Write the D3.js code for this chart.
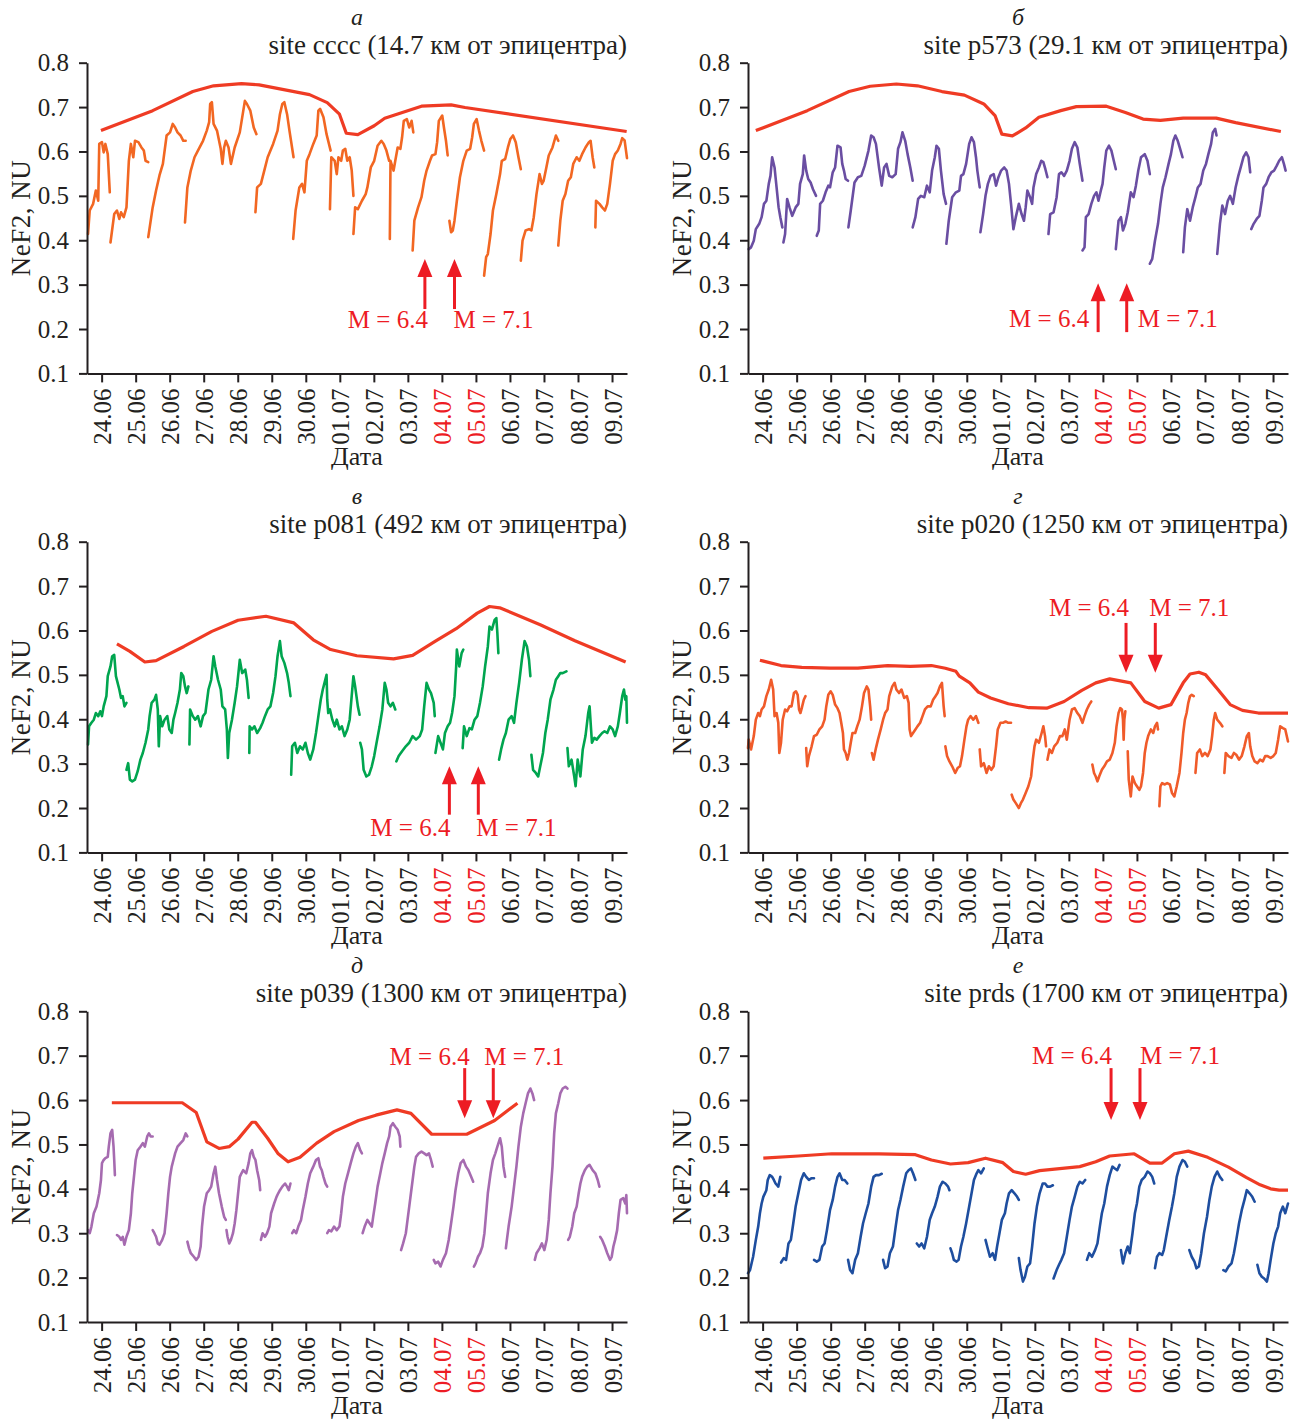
<!DOCTYPE html>
<html>
<head>
<meta charset="utf-8">
<script src="https://cdn.jsdelivr.net/npm/d3@7"></script>
<style>
  body { margin: 0; background: #fff; }
</style>
</head>
<body>
<svg id="chart" width="1304" height="1424"></svg>
<script>
// Day index 0 = 24.06 tick, 15 = 09.07 tick
const dateLabels = ["24.06","25.06","26.06","27.06","28.06","29.06","30.06","01.07","02.07","03.07","04.07","05.07","06.07","07.07","08.07","09.07"];
const redLabels = ["04.07","05.07"];
const yTicks = [0.1,0.2,0.3,0.4,0.5,0.6,0.7,0.8];
const quakeLabels = ["M = 6.4","M = 7.1"];
const panelLetters = ["а","б","в","г","д","е"];
const siteTitles = [
  "site cccc (14.7 км от эпицентра)",
  "site p573 (29.1 км от эпицентра)",
  "site p081 (492 км от эпицентра)",
  "site p020 (1250 км от эпицентра)",
  "site p039 (1300 км от эпицентра)",
  "site prds (1700 км от эпицентра)"
];

// ---- panel а : cccc ----
const envA = [[-0.02,0.647],[1.50,0.692],[2.68,0.735],[3.29,0.748],[4.11,0.753],[4.63,0.750],[6.11,0.728],[6.63,0.710],[6.99,0.684],[7.19,0.641],[7.53,0.638],[8.01,0.658],[8.32,0.675],[9.40,0.702],[10.27,0.705],[10.68,0.699],[15.43,0.645]];
const neA = [
  [[-0.40,0.414],[-0.35,0.467],[-0.25,0.482],[-0.17,0.512],[-0.10,0.489],[-0.07,0.617],[0.01,0.621],[0.06,0.598],[0.11,0.617],[0.18,0.594],[0.24,0.508]],
  [[0.26,0.395],[0.37,0.459],[0.45,0.467],[0.52,0.448],[0.57,0.463],[0.65,0.452],[0.73,0.474],[0.80,0.579],[0.86,0.617],[0.93,0.587],[0.98,0.624],[1.08,0.621],[1.17,0.609],[1.24,0.602],[1.29,0.579],[1.37,0.576]],
  [[1.37,0.407],[1.50,0.474],[1.60,0.512],[1.70,0.546],[1.80,0.572],[1.91,0.636],[2.01,0.643],[2.09,0.662],[2.16,0.654],[2.23,0.643],[2.32,0.636],[2.40,0.624],[2.47,0.624]],
  [[2.45,0.440],[2.52,0.519],[2.62,0.557],[2.73,0.587],[2.83,0.602],[2.98,0.624],[3.09,0.647],[3.16,0.666],[3.19,0.707],[3.24,0.711],[3.29,0.662],[3.39,0.647],[3.50,0.606],[3.55,0.572],[3.60,0.609],[3.65,0.624],[3.73,0.609],[3.80,0.572],[3.91,0.609],[4.06,0.643],[4.21,0.714],[4.27,0.707],[4.37,0.692],[4.47,0.654],[4.55,0.639]],
  [[4.52,0.463],[4.57,0.519],[4.68,0.527],[4.78,0.557],[4.88,0.587],[5.04,0.617],[5.17,0.647],[5.24,0.684],[5.31,0.707],[5.37,0.711],[5.45,0.684],[5.52,0.647],[5.64,0.587]],
  [[5.63,0.403],[5.70,0.467],[5.81,0.519],[5.89,0.527],[5.96,0.508],[6.03,0.579],[6.11,0.594],[6.22,0.617],[6.32,0.636],[6.37,0.692],[6.42,0.696],[6.52,0.677],[6.61,0.639],[6.73,0.602]],
  [[6.71,0.470],[6.75,0.587],[6.85,0.579],[6.91,0.549],[6.96,0.587],[7.04,0.579],[7.09,0.602],[7.16,0.606],[7.22,0.579],[7.29,0.587],[7.35,0.557],[7.40,0.500]],
  [[7.40,0.414],[7.45,0.474],[7.53,0.470],[7.65,0.489],[7.76,0.504],[7.81,0.519],[7.91,0.564],[8.01,0.579],[8.11,0.613],[8.22,0.624],[8.29,0.617],[8.37,0.602],[8.45,0.579]],
  [[8.47,0.403],[8.49,0.579],[8.58,0.557],[8.63,0.579],[8.70,0.609],[8.78,0.606],[8.83,0.632],[8.88,0.669],[8.97,0.673],[9.04,0.654],[9.11,0.669],[9.16,0.643]],
  [[9.14,0.377],[9.19,0.444],[9.30,0.474],[9.40,0.497],[9.48,0.534],[9.55,0.557],[9.65,0.579],[9.71,0.591],[9.81,0.594],[9.86,0.621],[9.91,0.669],[10.01,0.681],[10.06,0.654],[10.12,0.624],[10.17,0.591]],
  [[10.22,0.444],[10.27,0.418],[10.32,0.422],[10.37,0.444],[10.44,0.489],[10.53,0.542],[10.63,0.579],[10.73,0.602],[10.83,0.606],[10.89,0.632],[10.94,0.662],[11.02,0.673],[11.09,0.647],[11.16,0.624],[11.24,0.602]],
  [[11.24,0.320],[11.30,0.362],[11.35,0.369],[11.43,0.414],[11.50,0.467],[11.60,0.504],[11.71,0.549],[11.76,0.579],[11.86,0.583],[11.94,0.609],[12.01,0.628],[12.09,0.636],[12.17,0.621],[12.25,0.587],[12.32,0.560]],
  [[12.32,0.354],[12.37,0.399],[12.46,0.422],[12.56,0.425],[12.63,0.422],[12.70,0.452],[12.78,0.504],[12.87,0.549],[12.94,0.527],[12.99,0.534],[13.07,0.564],[13.14,0.591],[13.25,0.609],[13.35,0.636],[13.42,0.624]],
  [[13.42,0.388],[13.48,0.444],[13.55,0.489],[13.63,0.504],[13.71,0.534],[13.79,0.542],[13.86,0.572],[13.96,0.587],[14.04,0.579],[14.12,0.594],[14.22,0.609],[14.32,0.621],[14.37,0.624],[14.43,0.587],[14.48,0.564]],
  [[14.51,0.429],[14.53,0.489],[14.63,0.482],[14.71,0.474],[14.79,0.467],[14.86,0.482],[14.94,0.527],[15.02,0.579],[15.09,0.594],[15.17,0.602],[15.25,0.617],[15.30,0.630],[15.37,0.625],[15.44,0.585]]
];

// ---- panel б : p573 ----
const envB = [[-0.20,0.647],[1.31,0.692],[2.54,0.735],[3.16,0.747],[3.93,0.752],[4.55,0.748],[5.27,0.735],[5.93,0.727],[6.50,0.707],[6.83,0.681],[7.03,0.639],[7.34,0.635],[7.73,0.653],[8.12,0.677],[8.76,0.692],[9.22,0.701],[10.10,0.702],[10.66,0.688],[11.18,0.673],[11.69,0.670],[12.36,0.675],[13.33,0.675],[13.90,0.665],[15.23,0.645]];
const neB = [
  [[-0.41,0.380],[-0.34,0.384],[-0.26,0.399],[-0.20,0.425],[-0.10,0.437],[-0.03,0.452],[0.04,0.482],[0.11,0.489],[0.18,0.527],[0.23,0.545],[0.28,0.587],[0.35,0.564],[0.41,0.519],[0.47,0.474],[0.52,0.452],[0.58,0.429]],
  [[0.61,0.395],[0.66,0.414],[0.72,0.493],[0.79,0.474],[0.87,0.455],[0.97,0.474],[1.05,0.482],[1.10,0.527],[1.18,0.549],[1.22,0.591],[1.28,0.557],[1.34,0.538],[1.41,0.530],[1.48,0.515],[1.57,0.500]],
  [[1.59,0.410],[1.65,0.422],[1.69,0.482],[1.77,0.489],[1.85,0.508],[1.93,0.523],[1.98,0.519],[2.06,0.553],[2.13,0.564],[2.20,0.613],[2.29,0.609],[2.34,0.572],[2.39,0.557],[2.44,0.538],[2.51,0.534]],
  [[2.52,0.429],[2.59,0.467],[2.70,0.530],[2.80,0.542],[2.90,0.545],[3.00,0.568],[3.11,0.602],[3.19,0.636],[3.26,0.632],[3.33,0.617],[3.42,0.564],[3.50,0.523],[3.57,0.564],[3.64,0.572],[3.72,0.545],[3.81,0.542],[3.91,0.549],[3.98,0.606],[4.05,0.621],[4.11,0.643],[4.19,0.624],[4.26,0.594],[4.34,0.564],[4.41,0.534]],
  [[4.41,0.429],[4.49,0.452],[4.57,0.493],[4.65,0.500],[4.75,0.497],[4.83,0.523],[4.91,0.508],[4.98,0.557],[5.06,0.587],[5.11,0.613],[5.18,0.606],[5.24,0.557],[5.32,0.504],[5.39,0.482]],
  [[5.40,0.392],[5.47,0.444],[5.57,0.497],[5.68,0.508],[5.78,0.512],[5.83,0.545],[5.90,0.549],[5.98,0.572],[6.07,0.617],[6.14,0.632],[6.21,0.621],[6.27,0.587],[6.31,0.557],[6.38,0.519]],
  [[6.40,0.418],[6.48,0.459],[6.55,0.500],[6.62,0.527],[6.70,0.545],[6.79,0.549],[6.86,0.523],[6.93,0.542],[7.01,0.557],[7.10,0.564],[7.17,0.557],[7.24,0.527],[7.30,0.482],[7.37,0.425],[7.44,0.452],[7.53,0.482],[7.61,0.459],[7.68,0.444],[7.73,0.474],[7.78,0.512],[7.86,0.497],[7.92,0.482],[7.96,0.519],[8.04,0.549],[8.12,0.564],[8.19,0.579],[8.25,0.576],[8.31,0.560],[8.37,0.542]],
  [[8.40,0.414],[8.45,0.459],[8.55,0.463],[8.64,0.497],[8.71,0.549],[8.78,0.553],[8.86,0.545],[8.94,0.557],[9.02,0.579],[9.09,0.606],[9.17,0.621],[9.25,0.609],[9.32,0.572],[9.40,0.534]],
  [[9.40,0.377],[9.46,0.384],[9.50,0.452],[9.58,0.459],[9.66,0.482],[9.74,0.500],[9.81,0.508],[9.87,0.489],[9.94,0.512],[9.99,0.527],[10.04,0.564],[10.10,0.602],[10.18,0.613],[10.25,0.602],[10.32,0.579],[10.38,0.560]],
  [[10.38,0.380],[10.46,0.444],[10.53,0.452],[10.59,0.422],[10.66,0.437],[10.73,0.463],[10.82,0.508],[10.90,0.497],[10.97,0.523],[11.04,0.557],[11.12,0.587],[11.23,0.594],[11.31,0.579],[11.38,0.549]],
  [[11.38,0.347],[11.45,0.358],[11.53,0.399],[11.62,0.437],[11.69,0.482],[11.76,0.519],[11.84,0.542],[11.93,0.572],[12.00,0.594],[12.07,0.624],[12.13,0.636],[12.20,0.624],[12.27,0.606],[12.34,0.587]],
  [[12.36,0.373],[12.41,0.429],[12.48,0.470],[12.56,0.444],[12.64,0.474],[12.72,0.497],[12.79,0.519],[12.87,0.527],[12.95,0.557],[13.03,0.572],[13.10,0.594],[13.18,0.617],[13.23,0.643],[13.30,0.651],[13.34,0.636]],
  [[13.36,0.369],[13.44,0.437],[13.51,0.478],[13.59,0.459],[13.67,0.489],[13.74,0.500],[13.82,0.482],[13.90,0.519],[13.98,0.545],[14.05,0.564],[14.13,0.587],[14.21,0.598],[14.28,0.587],[14.33,0.553]],
  [[14.36,0.425],[14.43,0.437],[14.52,0.448],[14.60,0.455],[14.67,0.489],[14.72,0.519],[14.80,0.527],[14.87,0.542],[14.95,0.553],[15.03,0.557],[15.11,0.568],[15.18,0.579],[15.26,0.587],[15.32,0.572],[15.37,0.557]]
];

// ---- panel в : p081 ----
const envC = [[0.45,0.570],[0.83,0.553],[1.27,0.529],[1.60,0.532],[2.42,0.564],[3.24,0.598],[4.01,0.623],[4.83,0.632],[5.65,0.617],[6.22,0.579],[6.73,0.557],[7.50,0.543],[8.58,0.536],[9.14,0.544],[9.81,0.576],[10.42,0.604],[11.04,0.639],[11.40,0.654],[11.70,0.651],[12.89,0.613],[13.91,0.577],[15.40,0.529]];
const neC = [
  [[-0.40,0.343],[-0.37,0.384],[-0.30,0.392],[-0.23,0.399],[-0.17,0.414],[-0.10,0.407],[-0.04,0.418],[0.01,0.407],[0.06,0.429],[0.14,0.452],[0.18,0.497],[0.26,0.519],[0.31,0.542],[0.37,0.545],[0.42,0.497],[0.47,0.482],[0.52,0.467],[0.57,0.448],[0.62,0.452],[0.67,0.429],[0.73,0.437]],
  [[0.73,0.286],[0.78,0.301],[0.83,0.264],[0.90,0.260],[0.98,0.264],[1.06,0.283],[1.14,0.309],[1.21,0.324],[1.29,0.347],[1.37,0.377],[1.41,0.407],[1.47,0.437],[1.55,0.444],[1.60,0.455],[1.65,0.422],[1.68,0.339],[1.72,0.407],[1.78,0.384],[1.85,0.399],[1.93,0.407],[1.99,0.377],[2.06,0.369],[2.11,0.399],[2.16,0.414],[2.23,0.437],[2.30,0.467],[2.34,0.504],[2.40,0.497],[2.45,0.474],[2.50,0.459],[2.55,0.474]],
  [[2.58,0.343],[2.60,0.422],[2.68,0.407],[2.75,0.399],[2.83,0.407],[2.91,0.384],[2.98,0.407],[3.05,0.414],[3.14,0.467],[3.22,0.489],[3.29,0.542],[3.34,0.519],[3.42,0.489],[3.50,0.467],[3.55,0.429],[3.63,0.422],[3.68,0.377],[3.71,0.313],[3.75,0.369],[3.83,0.399],[3.91,0.437],[3.98,0.474],[4.06,0.534],[4.13,0.504],[4.22,0.512],[4.27,0.489],[4.32,0.448]],
  [[4.34,0.324],[4.35,0.384],[4.42,0.377],[4.49,0.384],[4.57,0.369],[4.66,0.380],[4.73,0.392],[4.80,0.407],[4.88,0.422],[4.96,0.429],[5.04,0.459],[5.11,0.497],[5.17,0.542],[5.24,0.576],[5.29,0.542],[5.37,0.527],[5.45,0.504],[5.50,0.482],[5.55,0.452]],
  [[5.57,0.275],[5.60,0.339],[5.68,0.347],[5.75,0.324],[5.83,0.339],[5.91,0.332],[5.99,0.347],[6.06,0.324],[6.13,0.309],[6.22,0.332],[6.30,0.369],[6.37,0.407],[6.44,0.444],[6.50,0.467],[6.55,0.482],[6.61,0.500],[6.63,0.444],[6.66,0.414],[6.71,0.422],[6.78,0.399],[6.85,0.384],[6.91,0.399],[6.99,0.377],[7.06,0.384],[7.14,0.362],[7.22,0.377],[7.29,0.399],[7.34,0.444],[7.40,0.497],[7.45,0.474],[7.53,0.429],[7.58,0.410]],
  [[7.60,0.347],[7.65,0.332],[7.70,0.286],[7.78,0.271],[7.86,0.275],[7.94,0.294],[8.01,0.317],[8.08,0.347],[8.17,0.384],[8.25,0.422],[8.32,0.482],[8.37,0.467],[8.42,0.437],[8.49,0.429],[8.56,0.437],[8.63,0.422]],
  [[8.66,0.305],[8.73,0.317],[8.83,0.328],[8.94,0.339],[9.04,0.347],[9.14,0.362],[9.24,0.354],[9.35,0.362],[9.42,0.377],[9.48,0.429],[9.55,0.482],[9.62,0.467],[9.68,0.459],[9.76,0.437],[9.79,0.407]],
  [[9.81,0.324],[9.89,0.362],[9.96,0.347],[10.03,0.332],[10.09,0.369],[10.17,0.384],[10.24,0.392],[10.30,0.414],[10.37,0.452],[10.42,0.519],[10.44,0.557],[10.51,0.519],[10.58,0.549],[10.63,0.557]],
  [[10.61,0.335],[10.65,0.384],[10.73,0.362],[10.81,0.380],[10.88,0.377],[10.96,0.399],[11.04,0.407],[11.12,0.437],[11.20,0.474],[11.27,0.519],[11.35,0.564],[11.40,0.609],[11.47,0.602],[11.55,0.624],[11.60,0.628],[11.63,0.594],[11.66,0.549]],
  [[11.68,0.309],[11.74,0.332],[11.81,0.354],[11.88,0.369],[11.96,0.399],[12.05,0.407],[12.12,0.392],[12.19,0.437],[12.27,0.482],[12.35,0.534],[12.43,0.576],[12.50,0.564],[12.56,0.534],[12.60,0.497]],
  [[12.63,0.320],[12.68,0.286],[12.76,0.279],[12.83,0.271],[12.89,0.294],[12.97,0.324],[13.04,0.369],[13.11,0.399],[13.19,0.444],[13.28,0.467],[13.35,0.489],[13.42,0.497],[13.48,0.504],[13.55,0.504],[13.66,0.508]],
  [[13.69,0.335],[13.73,0.294],[13.81,0.309],[13.89,0.271],[13.93,0.249],[13.99,0.309],[14.07,0.271],[14.14,0.332],[14.22,0.362],[14.30,0.414],[14.34,0.429],[14.41,0.347],[14.48,0.358],[14.55,0.354],[14.63,0.362],[14.71,0.369],[14.78,0.373],[14.86,0.369],[14.94,0.384],[15.02,0.377],[15.09,0.362],[15.17,0.384],[15.23,0.414],[15.30,0.452],[15.35,0.467],[15.39,0.444],[15.42,0.452],[15.44,0.392]]
];

// ---- panel г : p020 ----
const envD = [[-0.08,0.533],[0.54,0.521],[1.15,0.517],[1.98,0.515],[2.80,0.515],[3.67,0.521],[4.34,0.519],[4.96,0.521],[5.37,0.515],[5.68,0.508],[5.78,0.497],[6.09,0.482],[6.34,0.461],[6.70,0.448],[7.22,0.435],[7.83,0.426],[8.35,0.425],[8.86,0.440],[9.38,0.465],[9.79,0.482],[10.20,0.491],[10.82,0.482],[11.23,0.440],[11.64,0.425],[12.00,0.433],[12.36,0.482],[12.56,0.502],[12.82,0.506],[13.02,0.500],[13.38,0.467],[13.74,0.433],[14.10,0.420],[14.57,0.414],[15.44,0.414]];
const neD = [
  [[-0.43,0.335],[-0.41,0.354],[-0.34,0.332],[-0.26,0.362],[-0.20,0.399],[-0.13,0.414],[-0.08,0.407],[-0.03,0.422],[0.04,0.429],[0.11,0.452],[0.18,0.467],[0.25,0.489],[0.31,0.467],[0.35,0.407],[0.41,0.414],[0.46,0.392],[0.49,0.324],[0.54,0.347],[0.59,0.399],[0.66,0.422],[0.72,0.418],[0.79,0.429],[0.85,0.429],[0.92,0.459],[0.98,0.463],[1.03,0.455],[1.07,0.422],[1.11,0.414],[1.15,0.425],[1.21,0.444],[1.26,0.452]],
  [[1.28,0.335],[1.31,0.294],[1.36,0.317],[1.44,0.339],[1.51,0.362],[1.59,0.365],[1.67,0.377],[1.75,0.384],[1.82,0.399],[1.87,0.429],[1.93,0.455],[2.00,0.463],[2.06,0.455],[2.13,0.433],[2.20,0.425],[2.26,0.414],[2.31,0.392],[2.36,0.369],[2.39,0.332],[2.44,0.324],[2.49,0.309],[2.54,0.324],[2.59,0.347],[2.64,0.369],[2.72,0.369],[2.78,0.384],[2.85,0.399],[2.92,0.429],[2.98,0.459],[3.06,0.474],[3.11,0.467],[3.16,0.429],[3.19,0.399]],
  [[3.21,0.324],[3.26,0.309],[3.33,0.335],[3.39,0.354],[3.47,0.377],[3.54,0.399],[3.60,0.414],[3.67,0.422],[3.72,0.452],[3.81,0.474],[3.88,0.482],[3.93,0.467],[4.01,0.459],[4.08,0.467],[4.16,0.448],[4.24,0.452],[4.29,0.437],[4.32,0.377],[4.36,0.362],[4.42,0.369],[4.49,0.377],[4.55,0.384],[4.63,0.392],[4.70,0.407],[4.77,0.422],[4.85,0.429],[4.94,0.429],[5.01,0.444],[5.08,0.452],[5.14,0.459],[5.21,0.474],[5.27,0.482],[5.32,0.429],[5.35,0.407]],
  [[5.37,0.339],[5.42,0.317],[5.49,0.305],[5.57,0.294],[5.66,0.279],[5.73,0.290],[5.80,0.294],[5.86,0.317],[5.93,0.354],[5.99,0.384],[6.04,0.399],[6.11,0.407],[6.19,0.399],[6.27,0.407],[6.34,0.392]],
  [[6.38,0.332],[6.42,0.294],[6.50,0.301],[6.58,0.279],[6.65,0.294],[6.72,0.286],[6.79,0.294],[6.86,0.339],[6.91,0.377],[6.99,0.392],[7.06,0.392],[7.14,0.395],[7.22,0.392],[7.30,0.392]],
  [[7.32,0.230],[7.37,0.219],[7.44,0.211],[7.53,0.200],[7.59,0.211],[7.65,0.219],[7.73,0.234],[7.81,0.249],[7.89,0.271],[7.94,0.309],[7.99,0.339],[8.04,0.354],[8.12,0.347],[8.20,0.369],[8.25,0.384],[8.30,0.362],[8.33,0.339]],
  [[8.37,0.309],[8.43,0.332],[8.50,0.324],[8.57,0.339],[8.66,0.347],[8.74,0.362],[8.81,0.362],[8.88,0.377],[8.94,0.354],[9.02,0.399],[9.09,0.422],[9.17,0.425],[9.25,0.414],[9.32,0.407],[9.40,0.392],[9.46,0.407],[9.53,0.422],[9.60,0.433],[9.66,0.440]],
  [[9.69,0.298],[9.74,0.279],[9.79,0.271],[9.84,0.260],[9.89,0.271],[9.97,0.286],[10.04,0.294],[10.12,0.305],[10.20,0.309],[10.28,0.324],[10.35,0.347],[10.40,0.384],[10.46,0.414],[10.51,0.425],[10.56,0.422],[10.59,0.399],[10.61,0.354],[10.63,0.399],[10.66,0.418]],
  [[10.73,0.328],[10.76,0.264],[10.82,0.226],[10.87,0.271],[10.94,0.256],[11.00,0.249],[11.07,0.241],[11.12,0.249],[11.18,0.279],[11.23,0.324],[11.28,0.347],[11.33,0.362],[11.41,0.377],[11.48,0.369],[11.53,0.384],[11.59,0.392],[11.62,0.377]],
  [[11.66,0.204],[11.69,0.249],[11.74,0.256],[11.82,0.253],[11.89,0.256],[11.97,0.253],[12.03,0.234],[12.10,0.226],[12.17,0.249],[12.25,0.279],[12.31,0.324],[12.36,0.369],[12.41,0.399],[12.46,0.414],[12.51,0.437],[12.56,0.452],[12.61,0.455],[12.67,0.452]],
  [[12.72,0.279],[12.77,0.324],[12.85,0.332],[12.92,0.317],[13.00,0.324],[13.08,0.317],[13.16,0.332],[13.21,0.362],[13.26,0.399],[13.30,0.414],[13.36,0.399],[13.44,0.392],[13.51,0.384]],
  [[13.57,0.279],[13.61,0.324],[13.69,0.317],[13.78,0.313],[13.85,0.324],[13.92,0.320],[14.00,0.309],[14.08,0.317],[14.16,0.339],[14.23,0.362],[14.29,0.369],[14.33,0.339],[14.39,0.317],[14.46,0.305],[14.54,0.301],[14.62,0.309],[14.70,0.305],[14.77,0.317],[14.84,0.317],[14.93,0.313],[15.01,0.317],[15.08,0.324],[15.15,0.354],[15.21,0.384],[15.29,0.380],[15.36,0.377],[15.44,0.350]]
];

// ---- panel д : p039 ----
const envE = [[0.30,0.594],[2.37,0.594],[2.78,0.572],[3.09,0.506],[3.45,0.491],[3.75,0.495],[4.01,0.512],[4.42,0.550],[4.52,0.550],[4.88,0.514],[5.19,0.479],[5.48,0.461],[5.83,0.471],[6.32,0.503],[6.83,0.529],[7.55,0.554],[8.06,0.566],[8.68,0.578],[9.09,0.570],[9.70,0.523],[10.73,0.523],[11.55,0.554],[12.22,0.593]];
const neE = [
  [[-0.40,0.307],[-0.35,0.300],[-0.30,0.315],[-0.23,0.345],[-0.15,0.360],[-0.07,0.390],[-0.02,0.420],[0.01,0.458],[0.06,0.465],[0.11,0.469],[0.18,0.472],[0.21,0.495],[0.26,0.525],[0.31,0.533],[0.35,0.495],[0.37,0.465],[0.39,0.431]],
  [[0.45,0.296],[0.52,0.292],[0.57,0.285],[0.62,0.292],[0.67,0.274],[0.73,0.292],[0.80,0.307],[0.86,0.345],[0.90,0.390],[0.96,0.435],[1.00,0.465],[1.06,0.487],[1.14,0.495],[1.21,0.503],[1.27,0.495],[1.34,0.518],[1.39,0.525],[1.44,0.518],[1.50,0.518]],
  [[1.50,0.307],[1.55,0.300],[1.60,0.292],[1.65,0.277],[1.70,0.274],[1.78,0.285],[1.85,0.300],[1.91,0.345],[1.96,0.390],[2.01,0.427],[2.06,0.450],[2.11,0.465],[2.16,0.480],[2.23,0.495],[2.32,0.503],[2.40,0.510],[2.47,0.525],[2.52,0.518]],
  [[2.52,0.281],[2.57,0.266],[2.62,0.255],[2.71,0.247],[2.78,0.240],[2.85,0.247],[2.91,0.270],[2.95,0.315],[3.01,0.360],[3.09,0.390],[3.16,0.397],[3.22,0.405],[3.29,0.435],[3.34,0.450],[3.39,0.420],[3.45,0.390],[3.53,0.360],[3.60,0.337],[3.65,0.330]],
  [[3.67,0.307],[3.70,0.292],[3.75,0.277],[3.80,0.285],[3.86,0.300],[3.91,0.322],[3.96,0.352],[4.01,0.390],[4.06,0.427],[4.11,0.435],[4.16,0.442],[4.25,0.435],[4.32,0.458],[4.37,0.480],[4.42,0.487],[4.47,0.472],[4.52,0.465],[4.57,0.442],[4.63,0.420],[4.66,0.397]],
  [[4.68,0.285],[4.73,0.300],[4.80,0.292],[4.86,0.300],[4.93,0.315],[4.98,0.345],[5.07,0.367],[5.14,0.382],[5.19,0.390],[5.24,0.397],[5.31,0.405],[5.39,0.412],[5.45,0.405],[5.50,0.397],[5.55,0.412]],
  [[5.60,0.300],[5.65,0.307],[5.72,0.300],[5.78,0.315],[5.86,0.330],[5.91,0.352],[5.99,0.382],[6.06,0.412],[6.13,0.435],[6.22,0.450],[6.30,0.465],[6.37,0.469],[6.42,0.450],[6.47,0.442],[6.52,0.427],[6.58,0.412],[6.63,0.405]],
  [[6.63,0.300],[6.68,0.307],[6.75,0.304],[6.83,0.315],[6.91,0.307],[6.99,0.315],[7.04,0.345],[7.09,0.382],[7.16,0.412],[7.24,0.435],[7.32,0.458],[7.40,0.480],[7.47,0.495],[7.53,0.503],[7.60,0.487],[7.65,0.480]],
  [[7.67,0.300],[7.73,0.315],[7.81,0.330],[7.88,0.322],[7.94,0.315],[7.98,0.337],[8.04,0.367],[8.11,0.405],[8.19,0.435],[8.25,0.458],[8.32,0.480],[8.39,0.503],[8.45,0.518],[8.49,0.540],[8.56,0.548],[8.63,0.540],[8.70,0.533],[8.76,0.518],[8.78,0.495]],
  [[8.80,0.262],[8.86,0.277],[8.94,0.300],[8.99,0.330],[9.04,0.360],[9.09,0.390],[9.14,0.420],[9.19,0.450],[9.24,0.472],[9.32,0.480],[9.40,0.484],[9.48,0.480],[9.55,0.476],[9.62,0.480],[9.68,0.465],[9.73,0.450]],
  [[9.76,0.240],[9.81,0.232],[9.89,0.236],[9.96,0.225],[10.03,0.240],[10.12,0.255],[10.20,0.285],[10.27,0.322],[10.34,0.360],[10.40,0.397],[10.48,0.435],[10.55,0.458],[10.63,0.465],[10.71,0.450],[10.78,0.442],[10.86,0.427],[10.92,0.416]],
  [[10.94,0.225],[10.99,0.232],[11.06,0.247],[11.12,0.255],[11.19,0.270],[11.25,0.300],[11.30,0.345],[11.35,0.390],[11.43,0.435],[11.50,0.465],[11.57,0.480],[11.63,0.495],[11.71,0.514],[11.76,0.495],[11.81,0.450],[11.86,0.427]],
  [[11.88,0.266],[11.91,0.285],[11.96,0.315],[12.05,0.360],[12.12,0.405],[12.19,0.450],[12.25,0.495],[12.32,0.540],[12.39,0.570],[12.46,0.593],[12.53,0.615],[12.60,0.626],[12.66,0.615],[12.71,0.600]],
  [[12.73,0.240],[12.78,0.255],[12.87,0.266],[12.94,0.277],[13.01,0.262],[13.08,0.285],[13.14,0.330],[13.19,0.390],[13.25,0.450],[13.30,0.525],[13.35,0.570],[13.42,0.593],[13.48,0.615],[13.55,0.626],[13.63,0.630],[13.69,0.626]],
  [[13.71,0.285],[13.76,0.292],[13.83,0.315],[13.89,0.345],[13.96,0.360],[14.02,0.390],[14.07,0.412],[14.12,0.427],[14.20,0.442],[14.27,0.450],[14.34,0.454],[14.43,0.442],[14.51,0.435],[14.58,0.420],[14.63,0.405]],
  [[14.65,0.292],[14.71,0.285],[14.79,0.270],[14.86,0.255],[14.94,0.240],[14.99,0.247],[15.04,0.270],[15.09,0.285],[15.15,0.307],[15.20,0.345],[15.25,0.375],[15.33,0.379],[15.39,0.367],[15.42,0.386],[15.44,0.345]]
];

// ---- panel е : prds ----
const envF = [[0.02,0.469],[1.05,0.474],[2.03,0.479],[3.42,0.479],[4.49,0.477],[4.96,0.465],[5.52,0.456],[6.04,0.459],[6.55,0.469],[7.06,0.459],[7.37,0.439],[7.73,0.433],[8.14,0.441],[9.32,0.450],[9.79,0.461],[10.20,0.474],[10.92,0.479],[11.38,0.458],[11.74,0.458],[12.10,0.479],[12.51,0.485],[13.08,0.471],[13.69,0.449],[14.21,0.426],[14.62,0.409],[14.93,0.400],[15.18,0.397],[15.44,0.397]];
const neF = [
  [[-0.43,0.210],[-0.37,0.217],[-0.28,0.247],[-0.20,0.285],[-0.13,0.315],[-0.08,0.345],[-0.03,0.367],[0.02,0.382],[0.11,0.397],[0.15,0.420],[0.21,0.431],[0.28,0.427],[0.33,0.420],[0.38,0.412],[0.46,0.405],[0.52,0.427]],
  [[0.54,0.234],[0.62,0.244],[0.69,0.240],[0.76,0.277],[0.83,0.285],[0.90,0.322],[0.97,0.360],[1.05,0.390],[1.13,0.420],[1.21,0.435],[1.28,0.427],[1.36,0.420],[1.44,0.424],[1.51,0.424]],
  [[1.51,0.240],[1.59,0.236],[1.67,0.240],[1.75,0.270],[1.82,0.277],[1.89,0.307],[1.98,0.352],[2.06,0.375],[2.13,0.405],[2.20,0.427],[2.26,0.435],[2.34,0.420],[2.41,0.420],[2.49,0.412]],
  [[2.51,0.240],[2.57,0.217],[2.64,0.210],[2.72,0.240],[2.80,0.255],[2.88,0.292],[2.95,0.322],[3.03,0.345],[3.11,0.367],[3.19,0.405],[3.26,0.427],[3.33,0.431],[3.42,0.431],[3.50,0.434]],
  [[3.54,0.240],[3.60,0.221],[3.67,0.225],[3.74,0.255],[3.83,0.270],[3.91,0.315],[3.98,0.352],[4.05,0.375],[4.13,0.405],[4.22,0.435],[4.29,0.442],[4.36,0.446],[4.42,0.435],[4.49,0.420]],
  [[4.53,0.277],[4.60,0.270],[4.67,0.277],[4.75,0.266],[4.83,0.292],[4.91,0.330],[4.98,0.345],[5.06,0.360],[5.14,0.382],[5.21,0.405],[5.29,0.416],[5.37,0.412],[5.45,0.405],[5.49,0.397]],
  [[5.52,0.266],[5.57,0.255],[5.62,0.240],[5.70,0.236],[5.76,0.240],[5.83,0.270],[5.90,0.292],[5.98,0.322],[6.07,0.360],[6.14,0.390],[6.21,0.420],[6.29,0.435],[6.34,0.442],[6.42,0.435],[6.50,0.446]],
  [[6.55,0.285],[6.60,0.270],[6.68,0.247],[6.76,0.255],[6.83,0.240],[6.89,0.270],[6.96,0.300],[7.03,0.330],[7.12,0.345],[7.17,0.367],[7.24,0.390],[7.32,0.397],[7.40,0.390],[7.48,0.382],[7.53,0.375]],
  [[7.53,0.244],[7.58,0.217],[7.65,0.191],[7.71,0.202],[7.78,0.225],[7.86,0.232],[7.92,0.270],[7.99,0.322],[8.06,0.360],[8.14,0.390],[8.23,0.412],[8.30,0.412],[8.37,0.405],[8.45,0.405],[8.53,0.408]],
  [[8.55,0.198],[8.64,0.217],[8.71,0.229],[8.78,0.240],[8.86,0.255],[8.94,0.292],[9.02,0.330],[9.09,0.360],[9.17,0.382],[9.25,0.405],[9.32,0.416],[9.40,0.412],[9.48,0.420]],
  [[9.53,0.240],[9.60,0.255],[9.68,0.247],[9.77,0.262],[9.84,0.277],[9.91,0.315],[9.97,0.345],[10.04,0.367],[10.12,0.405],[10.20,0.431],[10.28,0.450],[10.35,0.446],[10.42,0.442],[10.49,0.454]],
  [[10.53,0.262],[10.59,0.232],[10.66,0.255],[10.73,0.270],[10.79,0.255],[10.87,0.300],[10.94,0.345],[11.00,0.367],[11.07,0.405],[11.14,0.420],[11.23,0.427],[11.31,0.439],[11.38,0.435],[11.45,0.427],[11.51,0.412]],
  [[11.53,0.221],[11.59,0.247],[11.66,0.255],[11.74,0.251],[11.79,0.262],[11.86,0.292],[11.95,0.330],[12.03,0.360],[12.10,0.390],[12.17,0.427],[12.25,0.450],[12.34,0.465],[12.41,0.461],[12.48,0.450]],
  [[12.54,0.262],[12.61,0.247],[12.69,0.236],[12.75,0.221],[12.82,0.225],[12.89,0.255],[12.97,0.300],[13.06,0.337],[13.13,0.375],[13.20,0.405],[13.28,0.427],[13.36,0.439],[13.44,0.427],[13.51,0.420]],
  [[13.54,0.217],[13.61,0.214],[13.69,0.225],[13.78,0.232],[13.85,0.255],[13.92,0.285],[14.00,0.322],[14.08,0.352],[14.16,0.375],[14.23,0.397],[14.31,0.390],[14.39,0.382],[14.46,0.371]],
  [[14.54,0.229],[14.60,0.210],[14.67,0.202],[14.74,0.198],[14.82,0.191],[14.87,0.210],[14.93,0.240],[15.01,0.277],[15.08,0.300],[15.15,0.315],[15.21,0.345],[15.29,0.360],[15.36,0.345],[15.44,0.367]]
];

// earthquake marks (day index) as drawn in each panel
const quakesA = [9.50, 10.37];
const quakesB = [9.86, 10.70];
const quakesC = [10.22, 11.07];
const quakesD = [10.68, 11.54];
const quakesE = [10.67, 11.51];
const quakesF = [10.24, 11.09];

const ink = "#231f20";
const red = "#ed1c24";
const envColor = "#ef3b24";
const serif = "'Liberation Serif', 'Times New Roman', Times, serif";

// arrow placement per panel: tip/tail/label in NU, label offsets in px
const panels = [
  { env: envA, series: neA, color: "#f26722", quakes: quakesA, arrow: { tip: 0.358, tail: 0.245, label: 0.203, dx: [3, -1] } },
  { env: envB, series: neB, color: "#6a4ea2", quakes: quakesB, arrow: { tip: 0.303, tail: 0.193, label: 0.204, dx: [-9, 11] } },
  { env: envC, series: neC, color: "#00a54f", quakes: quakesC, arrow: { tip: 0.294, tail: 0.185, label: 0.136, dx: [1, -2] } },
  { env: envD, series: neD, color: "#f05b2a", quakes: quakesD, arrow: { tip: 0.505, tail: 0.617, label: 0.632, dx: [3, -6] } },
  { env: envE, series: neE, color: "#a66bb0", quakes: quakesE, arrow: { tip: 0.559, tail: 0.672, label: 0.679, dx: [5, -9] } },
  { env: envF, series: neF, color: "#1e4e9f", quakes: quakesF, arrow: { tip: 0.555, tail: 0.672, label: 0.681, dx: [1, 0] } }
];

const colX = [87, 748];
const rowY = [62.7, 541.7, 1011.3];
const plotW = 540, plotH = 310.7;

const svg = d3.select("#chart");

const x = d3.scaleLinear().domain([-0.43, 15.44]).range([0, plotW]);
const y = d3.scaleLinear().domain([0.1, 0.8]).range([plotH, 0]);
const line = d3.line().x(d => x(d[0])).y(d => y(d[1]));

panels.forEach((p, i) => {
  const g = svg.append("g")
    .attr("transform", `translate(${colX[i % 2]},${rowY[Math.floor(i / 2)]})`);

  // NeF2 series, one path per continuous piece
  g.selectAll("path.ne")
    .data(p.series)
    .join("path")
    .attr("class", "ne")
    .attr("d", line)
    .attr("fill", "none")
    .attr("stroke", p.color)
    .attr("stroke-width", 2.6)
    .attr("stroke-linejoin", "round")
    .attr("stroke-linecap", "round");

  // upper envelope
  g.append("path")
    .datum(p.env)
    .attr("d", line)
    .attr("fill", "none")
    .attr("stroke", envColor)
    .attr("stroke-width", 3.2)
    .attr("stroke-linejoin", "round");

  // y axis
  const gy = g.append("g")
    .call(d3.axisLeft(y).tickValues(yTicks).tickFormat(d3.format(".1f"))
      .tickSize(8).tickPadding(10).tickSizeOuter(0))
    .attr("font-family", serif)
    .attr("font-size", 25);
  gy.select(".domain").attr("stroke", ink).attr("stroke-width", 2);
  gy.selectAll(".tick line").attr("stroke", ink).attr("stroke-width", 2);
  gy.selectAll(".tick text").attr("fill", ink);

  // x axis with rotated date labels
  const gx = g.append("g")
    .attr("transform", `translate(0,${plotH})`)
    .call(d3.axisBottom(x).tickValues(d3.range(dateLabels.length))
      .tickFormat(k => dateLabels[k]).tickSize(9).tickSizeOuter(0))
    .attr("font-family", serif)
    .attr("font-size", 25);
  gx.select(".domain").attr("stroke", ink).attr("stroke-width", 2);
  gx.selectAll(".tick line").attr("stroke", ink).attr("stroke-width", 2);
  gx.selectAll(".tick text")
    .attr("transform", "rotate(-90)")
    .attr("x", -15)
    .attr("y", 0)
    .attr("dy", "0.36em")
    .attr("text-anchor", "end")
    .attr("fill", k => redLabels.includes(dateLabels[k]) ? red : ink);

  // titles
  g.append("text")
    .attr("x", plotW / 2).attr("y", -38)
    .attr("text-anchor", "middle")
    .attr("font-family", serif).attr("font-style", "italic").attr("font-size", 24)
    .attr("fill", ink)
    .text(panelLetters[i]);

  g.append("text")
    .attr("x", plotW).attr("y", -9)
    .attr("text-anchor", "end")
    .attr("font-family", serif).attr("font-size", 27)
    .attr("fill", ink)
    .text(siteTitles[i]);

  g.append("text")
    .attr("x", plotW / 2).attr("y", plotH + 92)
    .attr("text-anchor", "middle")
    .attr("font-family", serif).attr("font-size", 26)
    .attr("fill", ink)
    .text("Дата");

  g.append("text")
    .attr("transform", `translate(-66,${plotH / 2}) rotate(-90)`)
    .attr("text-anchor", "middle")
    .attr("dy", "0.35em")
    .attr("font-family", serif).attr("font-size", 27)
    .attr("letter-spacing", 0.5)
    .attr("fill", ink)
    .text("NeF2, NU");

  // earthquake arrows
  const yTip = y(p.arrow.tip), yTail = y(p.arrow.tail);
  const dir = yTip < yTail ? 1 : -1; // 1 = arrow points up
  const headLen = 18, headW = 7.5;
  p.quakes.forEach((q, k) => {
    const xq = x(q);
    g.append("line")
      .attr("x1", xq).attr("x2", xq)
      .attr("y1", yTail).attr("y2", yTip + dir * headLen * 0.7)
      .attr("stroke", red).attr("stroke-width", 3);
    g.append("path")
      .attr("d", `M${xq},${yTip}L${xq - headW},${yTip + dir * headLen}L${xq + headW},${yTip + dir * headLen}Z`)
      .attr("fill", red);
    g.append("text")
      .attr("x", xq + p.arrow.dx[k])
      .attr("y", y(p.arrow.label))
      .attr("text-anchor", k === 0 ? "end" : "start")
      .attr("font-family", serif).attr("font-size", 25)
      .attr("fill", red)
      .text(quakeLabels[k]);
  });
});
</script>
</body>
</html>
